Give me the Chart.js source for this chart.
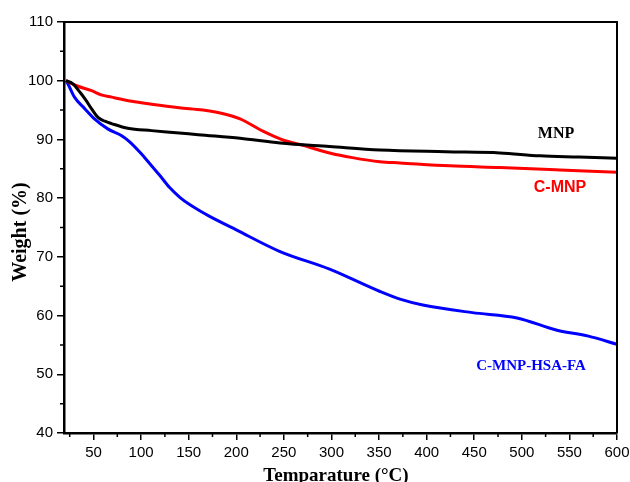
<!DOCTYPE html>
<html>
<head>
<meta charset="utf-8">
<script src="https://cdn.jsdelivr.net/npm/chart.js@4.4.1/dist/chart.umd.min.js"></script>
<style>
  html, body { margin:0; padding:0; background:#fff; }
  #wrap { width:630px; height:482px; position:relative; }
</style>
</head>
<body>
<div id="wrap"><canvas id="grafico-tga"></canvas></div>
<script>
// ----------------------------------------- Dados ----------------------------------------- //
const mnpT = [21, 28, 36, 42, 48, 55, 62, 69, 86, 111, 140, 160, 204, 246, 298, 351, 420, 477, 519, 560, 600];
const mnpW = [100, 99.5, 98.0, 96.7, 95.2, 93.7, 93.1, 92.7, 91.9, 91.5, 91.1, 90.8, 90.2, 89.4, 88.8, 88.2, 87.9, 87.7, 87.2, 87.0, 86.8];

const cmnpT = [21, 33, 48, 58, 69, 90, 111, 140, 165, 183, 204, 228, 249, 270, 298, 322, 351, 372, 424, 477, 540, 600];
const cmnpW = [100, 99.1, 98.3, 97.6, 97.2, 96.5, 96.0, 95.4, 95.0, 94.5, 93.5, 91.4, 89.9, 89.0, 87.7, 86.9, 86.2, 86.0, 85.5, 85.2, 84.8, 84.4];

const hsaT = [21, 23, 30, 41, 51, 65, 80, 88, 100, 109, 120, 130, 141, 151, 162, 172, 200, 246, 298, 351, 372, 396, 448, 495, 537, 570, 600];
const hsaW = [100, 99.5, 97.2, 95.2, 93.5, 91.8, 90.6, 89.6, 87.6, 85.9, 83.8, 81.8, 80.1, 78.9, 77.8, 76.9, 74.6, 70.9, 67.9, 64.1, 62.8, 61.8, 60.5, 59.6, 57.5, 56.5, 55.1];

const xTicks = [50, 100, 150, 200, 250, 300, 350, 400, 450, 500, 550, 600];
const xMinor = [25, 75, 125, 175, 225, 275, 325, 375, 425, 475, 525, 575];
const yTicks = [40, 50, 60, 70, 80, 90, 100, 110];
const yMinor = [45, 55, 65, 75, 85, 95, 105];

const pares = (t, w) => t.map((v, i) => ({ x: v, y: w[i] }));

// ----------------------------------------- Plugin: moldura, ticks menores, títulos ----------------------------------------- //
const extras = {
  id: 'extras',
  afterDraw(chart) {
    const { ctx, chartArea: a, scales: { x, y } } = chart;
    ctx.save();
    ctx.strokeStyle = '#000';
    ctx.lineWidth = 2;
    ctx.beginPath();
    ctx.moveTo(a.left, a.top); ctx.lineTo(a.right, a.top); ctx.lineTo(a.right, a.bottom);
    ctx.stroke();

    ctx.lineWidth = 1.5;
    ctx.beginPath();
    xMinor.forEach(v => { const px = x.getPixelForValue(v); ctx.moveTo(px, a.bottom); ctx.lineTo(px, a.bottom + 4); });
    yMinor.forEach(v => { const py = y.getPixelForValue(v); ctx.moveTo(a.left, py); ctx.lineTo(a.left - 4, py); });
    ctx.stroke();

    ctx.fillStyle = '#000';
    ctx.font = "bold 19px 'Liberation Serif'";
    ctx.textAlign = 'center';
    ctx.textBaseline = 'alphabetic';
    ctx.fillText('Temparature (°C)', 336, 481);

    ctx.save();
    ctx.translate(26, 232);
    ctx.rotate(-Math.PI / 2);
    ctx.font = "bold 20px 'Liberation Serif'";
    ctx.fillText('Weight (%)', 0, 0);
    ctx.restore();

    ctx.textBaseline = 'middle';
    ctx.font = "bold 16px 'Liberation Serif'";
    ctx.fillText('MNP', 556, 134);
    ctx.fillStyle = '#ff0000';
    ctx.font = "bold 16px 'Liberation Sans'";
    ctx.fillText('C-MNP', 560, 188);
    ctx.fillStyle = '#0000ff';
    ctx.font = "bold 15px 'Liberation Serif'";
    ctx.fillText('C-MNP-HSA-FA', 531, 366);
    ctx.restore();
  }
};

function serie(label, t, w, cor) {
  return {
    label,
    data: pares(t, w),
    borderColor: cor,
    borderWidth: 3,
    pointRadius: 0,
    fill: false,
    cubicInterpolationMode: 'monotone'
  };
}

// ----------------------------------------- Gráfico ----------------------------------------- //
new Chart(document.getElementById('grafico-tga'), {
  type: 'line',
  data: {
    datasets: [
      serie('MNP', mnpT, mnpW, '#000000'),
      serie('C-MNP', cmnpT, cmnpW, '#ff0000'),
      serie('C-MNP-HSA-FA', hsaT, hsaW, '#0000ff')
    ]
  },
  options: {
    responsive: true,
    maintainAspectRatio: false,
    animation: false,
    layout: { padding: { top: 22, right: 13, left: 0, bottom: 0 } },
    plugins: { legend: { display: false }, tooltip: { enabled: false } },
    scales: {
      x: {
        type: 'linear',
        min: 19, max: 600,
        afterBuildTicks: s => { s.ticks = xTicks.map(v => ({ value: v })); },
        afterFit: s => { s.height = 49; s.paddingLeft = 0; s.paddingRight = 0; },
        border: { color: '#000', width: 2.5 },
        grid: { drawOnChartArea: false, color: '#000', lineWidth: 1.5, tickLength: 7 },
        ticks: { color: '#000', font: { family: "'Liberation Sans'", size: 15 }, padding: 4, maxRotation: 0 }
      },
      y: {
        min: 40, max: 110,
        afterBuildTicks: s => { s.ticks = yTicks.map(v => ({ value: v })); },
        afterFit: s => { s.width = 64; s.paddingTop = 0; s.paddingBottom = 0; },
        border: { color: '#000', width: 2.5 },
        grid: { drawOnChartArea: false, color: '#000', lineWidth: 1.5, tickLength: 7 },
        ticks: { color: '#000', font: { family: "'Liberation Sans'", size: 15 }, padding: 4 }
      }
    }
  },
  plugins: [extras]
});
</script>
</body>
</html>
